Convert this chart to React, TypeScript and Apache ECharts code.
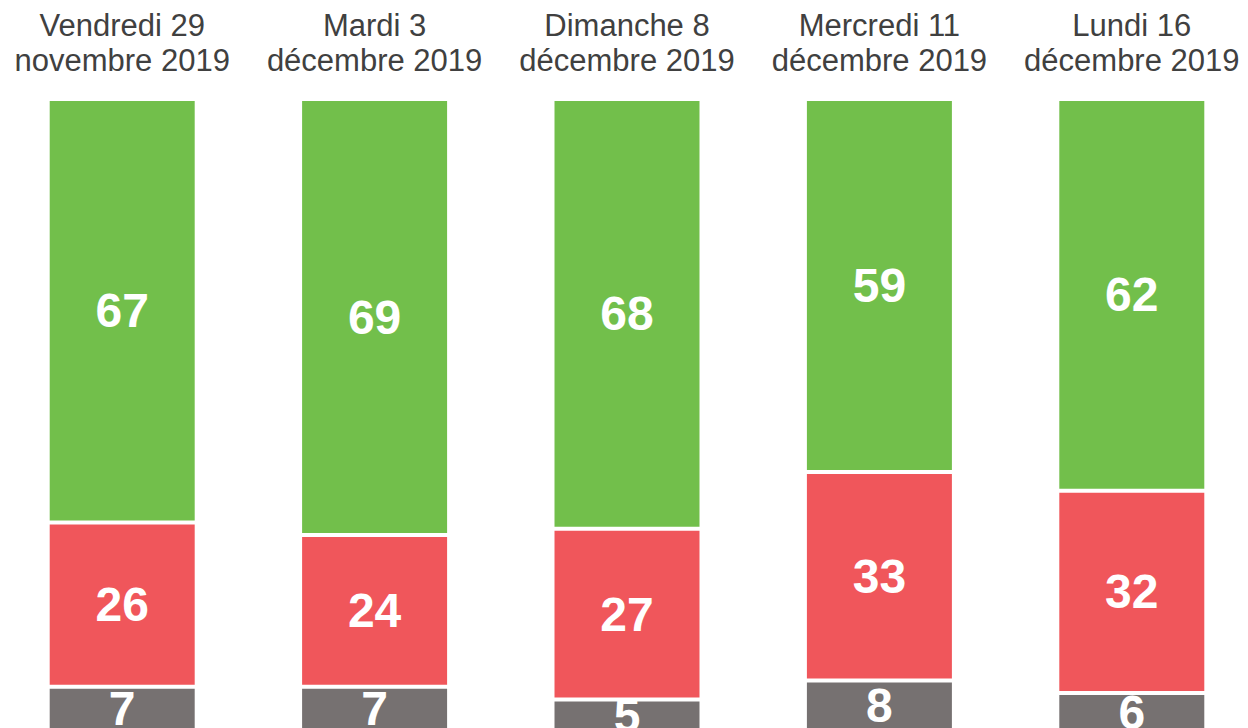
import React, { useEffect, useRef } from "react";
import * as echarts from "echarts";

const categories = [
  "Vendredi 29\nnovembre 2019",
  "Mardi 3\ndécembre 2019",
  "Dimanche 8\ndécembre 2019",
  "Mercredi 11\ndécembre 2019",
  "Lundi 16\ndécembre 2019",
];
const greyValues = [7, 7, 5, 8, 6];
const redValues = [26, 24, 27, 33, 32];
const greenValues = [67, 69, 68, 59, 62];

const FONT = "'Liberation Sans', Arial, sans-serif";

export default function App() {
  const ref = useRef<HTMLDivElement>(null);
  useEffect(() => {
    if (!ref.current) return;
    const chart = echarts.init(ref.current, null, { renderer: "svg" });
    const label = {
      show: true,
      position: "inside" as const,
      color: "#ffffff",
      fontSize: 48,
      fontWeight: "bold" as const,
      fontFamily: FONT,
    };
    const mk = (name: string, data: number[], color: string) => ({
      name,
      type: "bar" as const,
      stack: "total",
      data,
      barWidth: 149,
      itemStyle: { color, borderColor: "#ffffff", borderWidth: 2 },
      label,
    });
    chart.setOption({
      animation: false,
      grid: { left: 0, right: 0, top: 99, height: 632, containLabel: false },
      xAxis: {
        type: "category",
        position: "top",
        data: categories,
        axisLine: { show: false },
        axisTick: { show: false },
        axisLabel: {
          fontSize: 31,
          lineHeight: 35,
          color: "#404040",
          fontFamily: FONT,
          margin: 21,
          interval: 0,
        },
      },
      yAxis: { type: "value", min: 0, max: 100, show: false },
      series: [
        mk("grey", greyValues, "#767171"),
        mk("red", redValues, "#F0565B"),
        mk("green", greenValues, "#72BF4B"),
      ],
    });
    return () => chart.dispose();
  }, []);
  return (
    <div
      style={{
        position: "absolute",
        left: 0,
        top: 0,
        width: 1248,
        height: 728,
        overflow: "hidden",
        background: "#fff",
      }}
    >
      <div
        ref={ref}
        style={{ position: "absolute", left: -4, top: 0, width: 1262, height: 740 }}
      />
    </div>
  );
}
